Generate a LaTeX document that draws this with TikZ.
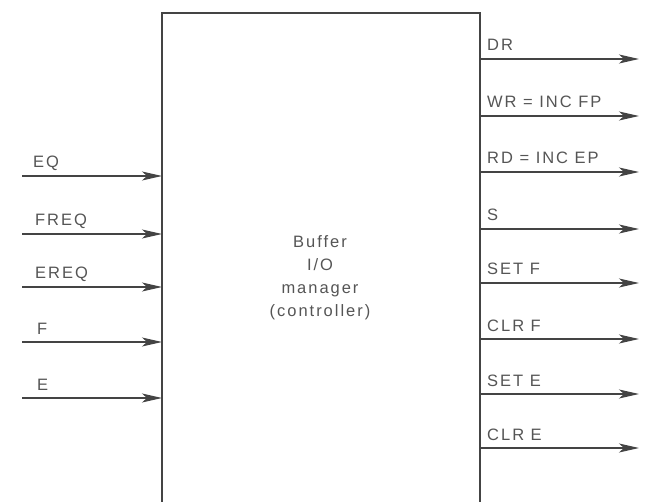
\documentclass[tikz,border=0pt]{standalone}
\usepackage{fontspec}
\newfontfamily\lblfont{Liberation Sans}[LetterSpace=12]
\usetikzlibrary{arrows.meta}
\definecolor{ink}{HTML}{444444}
\definecolor{txt}{HTML}{555555}
\tikzset{
  sig/.style={draw=ink, line width=1.3pt, -{Stealth[length=20pt,width=9pt,inset=5pt]}},
  boxline/.style={draw=ink, line width=1.1pt},
  lbl/.style={text=txt, font=\lblfont\fontsize{16.5}{19}\selectfont, inner sep=0pt, anchor=base west},
  ctext/.style={text=txt, font=\lblfont\fontsize{16.5}{23}\selectfont, inner sep=0pt, align=center}
}
\begin{document}
\begin{tikzpicture}[x=1pt,y=-1pt]
\useasboundingbox (0,0) rectangle (647,502);
% controller box (open at the bottom, continues below the picture)
\coordinate (bl) at (162,502);
\coordinate (tl) at (162,13);
\coordinate (tr) at (480,13);
\coordinate (br) at (480,502);
\draw[boxline] (bl) -- (tl) -- (tr) -- (br);
\node[ctext] (ctl) at (320,277.5) {Buffer\\I/O\\manager\\(controller)};
% inputs
\foreach \name/\y/\lx in {EQ/176/33, FREQ/234/35, EREQ/287/35, F/342/37, E/398/37}{
  \coordinate (s\name) at (22,\y);
  \coordinate (i\name) at (162,\y);
  \draw[sig] (s\name) -- (i\name);
  \node[lbl] (l\name) at (\lx,\y-8) {\name};
}
% outputs
\foreach \k/\y/\txt in {1/59/DR, 2/116/WR = INC FP, 3/172/RD = INC EP, 4/229/S, 5/283/SET F, 6/339/CLR F, 7/394/SET E, 8/448/CLR E}{
  \coordinate (o\k) at (480,\y);
  \coordinate (t\k) at (639,\y);
  \draw[sig] (o\k) -- (t\k);
  \node[lbl] (lo\k) at (487,\y-8) {\txt};
}
\end{tikzpicture}
\end{document}
